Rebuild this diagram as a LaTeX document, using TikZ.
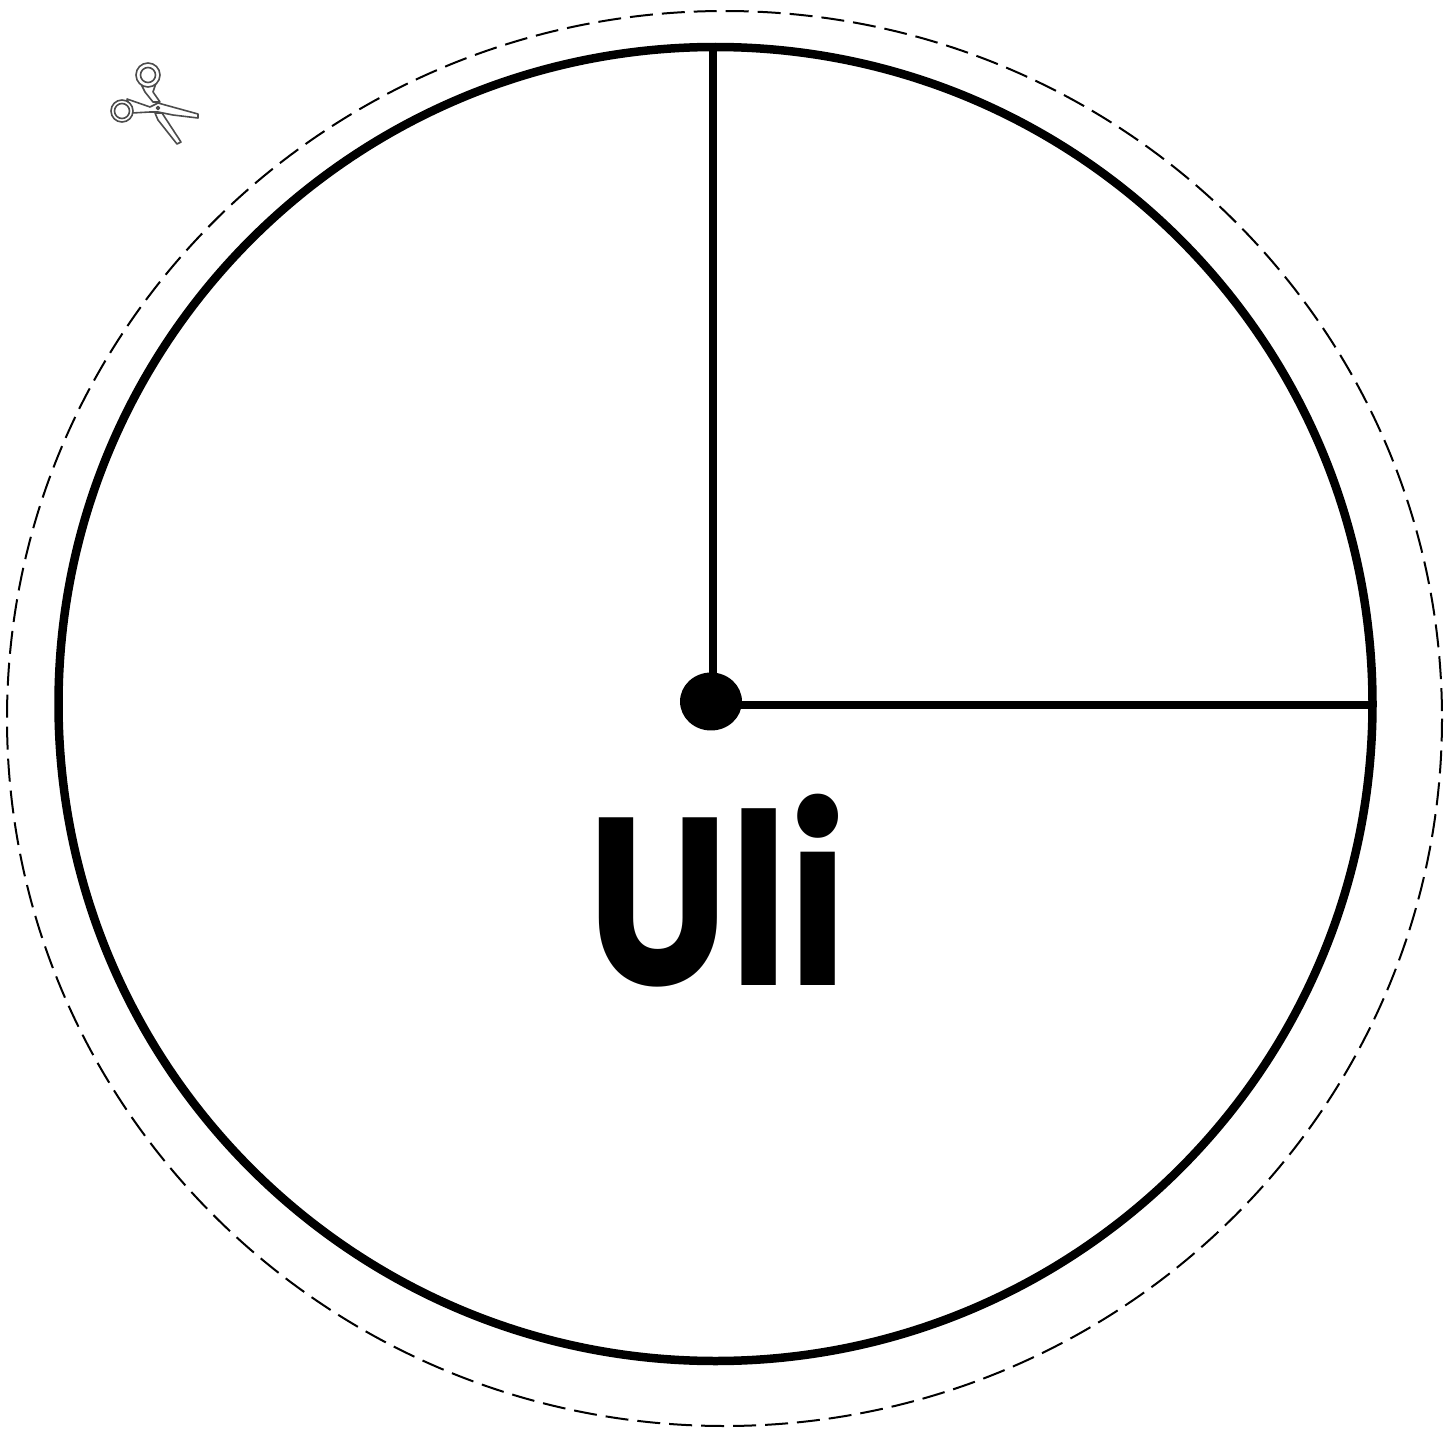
\documentclass[tikz,border=0pt]{standalone}
\usepackage{fontspec}
\setmainfont{Poppins}
\usetikzlibrary{shapes.geometric}
\tikzset{
rim/.style={line width=0.17cm},
spoke/.style={line width=0.15cm},
cutline/.style={line width=0.04cm,dash pattern=on 0.46cm off 0.18cm},
scissor/.style={line width=0.032cm,draw=black!70,fill=white,line join=round}
}
\begin{document}
\begin{tikzpicture}[x=0.02cm,y=-0.02cm]
\useasboundingbox (0,0) rectangle (1455,1433);
\draw[cutline](724.5,718.5)ellipse[x radius=717.5,y radius=707.5];
\draw[rim](715.5,704)circle[radius=657];
\coordinate (top) at (713,47);
\coordinate (side) at (1373,705);
\node[ellipse,fill=black,inner sep=0pt,minimum width=1.24cm,minimum height=1.16cm] (hub) at (711,701.5) {};
\draw[spoke](top)--(top|-hub);
\draw[spoke](side)--(hub|-side);
\node[anchor=base,inner sep=0pt,xscale=0.84] (name) at (717.5,985) {\fontsize{136}{136}\selectfont\bfseries Uli};
\draw[scissor](157,80)--(153,92)--(160,102)--(153,102)--(145,92)--(140,82)--cycle;
\draw[scissor](155,113)--(162,113)--(181,142)--(177,144)--(158,120)--cycle;
\draw[scissor](127,99)--(150,107)--(158,103)--(198,114)--(198,118)--(173,115)--(158,112)--(150,112)--(132,113)--cycle;
\foreach \cx/\cy/\ro/\ri in {148/75/12/7.5,122/111/11/7.5}{
\draw[scissor](\cx,\cy)circle[radius=\ro];
\draw[scissor](\cx,\cy)circle[radius=\ri];
}
\draw[scissor](158,108)circle[radius=1.5];
\end{tikzpicture}
\end{document}
